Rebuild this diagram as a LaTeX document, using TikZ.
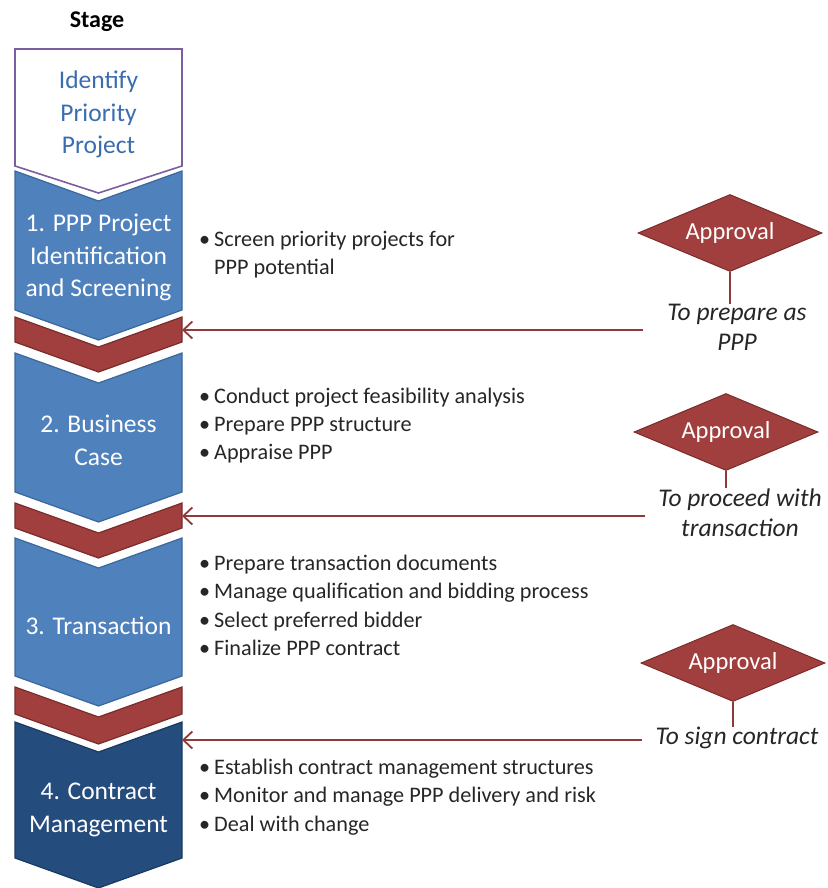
\documentclass[tikz,border=0pt]{standalone}
\usepackage{fontspec}
\setmainfont{Carlito}
\usepackage{xcolor}
\usetikzlibrary{shapes.geometric,arrows.meta}

\definecolor{stageblue}{HTML}{4F81BD}
\definecolor{stageedge}{HTML}{3A679C}
\definecolor{darkstage}{HTML}{244C7C}
\definecolor{darkedge}{HTML}{1B3A60}
\definecolor{bandred}{HTML}{A03F3D}
\definecolor{bandedge}{HTML}{7A2C2A}
\definecolor{idpurple}{HTML}{7B5EA0}
\definecolor{idtext}{HTML}{3A6DB0}
\definecolor{gateline}{HTML}{8E3A38}
\definecolor{textgray}{HTML}{262626}

\newcommand{\bitem}[1]{\makebox[15pt][l]{•}#1}

\begin{document}
\begin{tikzpicture}[x=1pt,y=-1pt,
	stage/.style={align=center,inner sep=0,text=white,font=\fontsize{25.5}{32.5}\selectfont},
	bullets/.style={anchor=west,align=left,inner sep=0,text=textgray,font=\fontsize{22.2}{28.3}\selectfont},
	approval/.style={diamond,aspect=2.4,draw=bandedge,fill=bandred,line width=1pt,minimum width=184pt,minimum height=77pt,inner sep=0,text=white,font=\fontsize{24.5}{28}\selectfont},
	caption/.style={align=center,inner sep=0,text=textgray,font=\itshape\fontsize{25.5}{30.5}\selectfont},
	feed/.style={draw=gateline,line width=1.8pt,-{Straight Barb[length=9pt,width=17pt]}},
	link/.style={draw=gateline,line width=1.8pt}]
	\useasboundingbox (0,0) rectangle (827,888);

	% stage chevrons
	\draw[draw=idpurple,line width=1.6pt,fill=white] (15,49) -- (182,49) -- (182,166) -- (98.5,193) -- (15,166) -- cycle;
	\draw[draw=stageedge,line width=1.2pt,fill=stageblue] (15,171) -- (98.5,201) -- (182,171) -- (182,310) -- (98.5,340) -- (15,310) -- cycle;
	\draw[draw=bandedge,line width=1.2pt,fill=bandred] (15,317) -- (98.5,347) -- (182,317) -- (182,342) -- (98.5,372) -- (15,342) -- cycle;
	\draw[draw=stageedge,line width=1.2pt,fill=stageblue] (15,353) -- (98.5,383) -- (182,353) -- (182,492) -- (98.5,522) -- (15,492) -- cycle;
	\draw[draw=bandedge,line width=1.2pt,fill=bandred] (15,503) -- (98.5,533) -- (182,503) -- (182,528) -- (98.5,558) -- (15,528) -- cycle;
	\draw[draw=stageedge,line width=1.2pt,fill=stageblue] (15,538) -- (98.5,568) -- (182,538) -- (182,676) -- (98.5,706) -- (15,676) -- cycle;
	\draw[draw=bandedge,line width=1.2pt,fill=bandred] (15,687) -- (98.5,717) -- (182,687) -- (182,714) -- (98.5,744) -- (15,714) -- cycle;
	\draw[draw=darkedge,line width=1.2pt,fill=darkstage] (15,722) -- (98.5,752) -- (182,722) -- (182,858) -- (98.5,888) -- (15,858) -- cycle;

	% stage labels
	\node[font=\bfseries\fontsize{24}{28}\selectfont] (head) at (97,22) {Stage};
	\node[stage,text=idtext] (idp) at (98.5,114.5) {Identify\\Priority\\Project};
	\node[stage] (s1) at (98.5,257.5) {1. PPP Project\\Identification\\and Screening};
	\node[stage] (s2) at (98.5,440.5) {2. Business\\Case};
	\node[stage] (s3) at (98.5,626) {3. Transaction};
	\node[stage] (s4) at (98.5,810) {4. Contract\\Management};

	% tasks
	\node[bullets] (t1) at (199,254.5) {\bitem{Screen priority projects for}\\\hspace*{15pt}PPP potential};
	\node[bullets] (t2) at (199,425.5) {\bitem{Conduct project feasibility analysis}\\\bitem{Prepare PPP structure}\\\bitem{Appraise PPP}};
	\node[bullets] (t3) at (199,605.5) {\bitem{Prepare transaction documents}\\\bitem{Manage qualification and bidding process}\\\bitem{Select preferred bidder}\\\bitem{Finalize PPP contract}};
	\node[bullets] (t4) at (199,797) {\bitem{Establish contract management structures}\\\bitem{Monitor and manage PPP delivery and risk}\\\bitem{Deal with change}};

	% approvals
	\node[approval] (a1) at (730,233) {Approval};
	\node[approval] (a2) at (726,432) {Approval};
	\node[approval] (a3) at (733,663) {Approval};
	\node[caption] (c1) at (737,327.5) {To prepare as\\PPP};
	\node[caption] (c2) at (740,512.5) {To proceed with\\transaction};
	\node[caption] (c3) at (737,738) {To sign contract};

	\coordinate (gate1) at (182,330);
	\coordinate (gate2) at (182,516);
	\coordinate (gate3) at (182,740);
	\coordinate (end1) at (643,330);
	\coordinate (end2) at (645,516);
	\coordinate (end3) at (642,740);

	% draw the lines
	\draw[link] (a1.south) -- (a1.south |- c1.north);
	\draw[link] (a2.south) -- (a2.south |- c2.north);
	\draw[link] (a3.south) -- (a3.south |- c3.north);
	\draw[feed] (end1) -- (gate1);
	\draw[feed] (end2) -- (gate2);
	\draw[feed] (end3) -- (gate3);
\end{tikzpicture}
\end{document}
